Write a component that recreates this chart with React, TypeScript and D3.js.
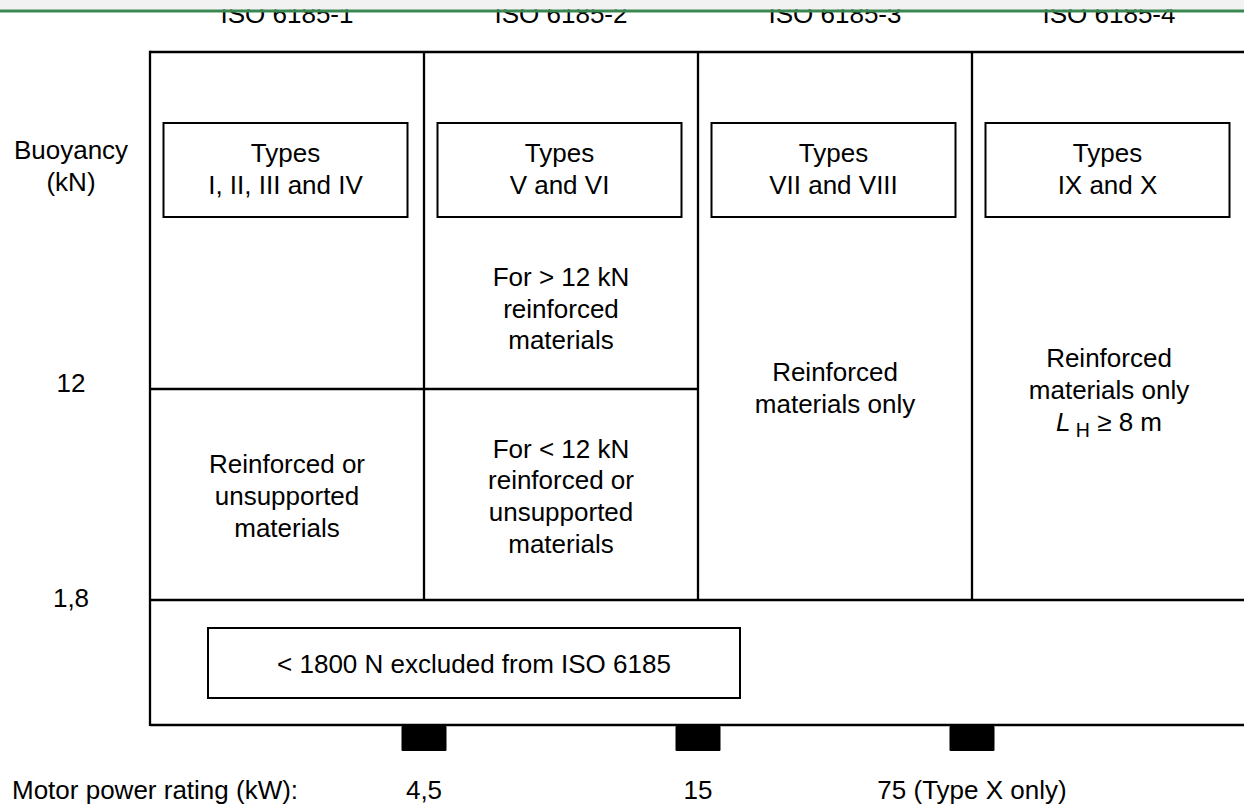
import React from "react";
import * as d3 from "d3";

const standards = ["ISO 6185-1", "ISO 6185-2", "ISO 6185-3", "ISO 6185-4"];
const typeLabels = [
  ["Types", "I, II, III and IV"],
  ["Types", "V and VI"],
  ["Types", "VII and VIII"],
  ["Types", "IX and X"],
];
const buoyancyLevels = ["top", "12", "1,8", "bottom"];
const buoyancyTicks = ["12", "1,8"];
const powerTicks = ["4,5", "15", "75 (Type X only)"];
const upperNotes = [
  [],
  ["For > 12 kN", "reinforced", "materials"],
  ["Reinforced", "materials only"],
  ["Reinforced", "materials only", "LH"],
];
const lowerNotes = [
  ["Reinforced or", "unsupported", "materials"],
  ["For < 12 kN", "reinforced or", "unsupported", "materials"],
];
const excludedLabel = "< 1800 N excluded from ISO 6185";
const yAxisTitle = ["Buoyancy", "(kN)"];
const xAxisTitle = "Motor power rating (kW):";

const W = 1244;
const H = 807;
const FS = 26;
const LH = 31.7;
const FONT = "'Liberation Sans', Arial, Helvetica, sans-serif";

function Lines({ lines, cx, cy }: { lines: string[]; cx: number; cy: number }) {
  const n = lines.length;
  return (
    <>
      {lines.map((t, i) => {
        const y = cy + (i - (n - 1) / 2) * LH + FS * 0.35;
        if (t === "LH") {
          return (
            <text key={i} x={cx} y={y} textAnchor="middle">
              <tspan fontStyle="italic">L</tspan>
              <tspan fontSize={FS * 0.75} dy={6}> H</tspan>
              <tspan dy={-6}> ≥ 8 m</tspan>
            </text>
          );
        }
        return (
          <text key={i} x={cx} y={y} textAnchor="middle">
            {t}
          </text>
        );
      })}
    </>
  );
}

export default function App() {
  const x = d3.scaleBand<string>().domain(standards).range([150, 1246]).padding(0);
  const y = d3.scaleOrdinal<string, number>().domain(buoyancyLevels).range([52, 389, 600, 725]);
  const bw = x.bandwidth();
  const left = x(standards[0])!;
  const right = 1246;
  const top = y("top");
  const y12 = y("12");
  const y18 = y("1,8");
  const bottom = y("bottom");
  const boundaries = standards.slice(1).map((s) => x(s)!);

  const stroke = "#000";
  return (
    <svg
      width={W}
      height={H}
      style={{ position: "absolute", left: 0, top: 0, display: "block", background: "#fff" }}
      fontFamily={FONT}
      fontSize={FS}
      fill="#000"
    >
      <rect x={0} y={0} width={W} height={H} fill="#fff" />
      {/* standard labels (clipped at top by band) */}
      {standards.map((s) => (
        <text key={s} x={x(s)! + bw / 2} y={23} textAnchor="middle">
          {s}
        </text>
      ))}
      <rect x={0} y={0} width={W} height={9.5} fill="#f2f2f2" />
      <rect x={0} y={9.5} width={W} height={3} fill="#3b8752" />

      {/* frame */}
      <g stroke={stroke} strokeWidth={2.3} fill="none">
        <line x1={left} x2={right} y1={top} y2={top} strokeWidth={2.6} />
        <line x1={left} x2={right} y1={bottom} y2={bottom} />
        <line x1={left} x2={left} y1={top - 1.3} y2={bottom + 1.1} />
        <line x1={left} x2={right} y1={y18} y2={y18} />
        <line x1={left} x2={x(standards[2])!} y1={y12} y2={y12} />
        {boundaries.map((bx) => (
          <line key={bx} x1={bx} x2={bx} y1={top} y2={y18} />
        ))}
      </g>

      {/* type boxes */}
      {standards.map((s, i) => (
        <g key={s}>
          <rect
            x={x(s)! + 13.5}
            y={123}
            width={bw - 30}
            height={94}
            fill="none"
            stroke={stroke}
            strokeWidth={2}
          />
          <Lines lines={typeLabels[i]} cx={x(s)! + 13.5 + (bw - 30) / 2} cy={169} />
        </g>
      ))}

      {/* notes */}
      <Lines lines={upperNotes[1]} cx={x(standards[1])! + bw / 2} cy={308.5} />
      <Lines lines={upperNotes[2]} cx={x(standards[2])! + bw / 2} cy={388} />
      <Lines lines={upperNotes[3]} cx={x(standards[3])! + bw / 2} cy={390} />
      <Lines lines={lowerNotes[0]} cx={x(standards[0])! + bw / 2} cy={496} />
      <Lines lines={lowerNotes[1]} cx={x(standards[1])! + bw / 2} cy={496} />

      {/* excluded box */}
      <rect x={208} y={628} width={532} height={70} fill="none" stroke={stroke} strokeWidth={2} />
      <Lines lines={[excludedLabel]} cx={474} cy={664} />

      {/* y axis labels */}
      <Lines lines={yAxisTitle} cx={71} cy={166} />
      {buoyancyTicks.map((t) => (
        <Lines key={t} lines={[t]} cx={71} cy={y(t) - (t === "12" ? 6 : 2)} />
      ))}

      {/* motor power markers */}
      {boundaries.map((bx, i) => (
        <g key={i}>
          <rect x={bx - 22.5} y={726} width={45} height={25} fill="#000" rx={1} />
          <Lines lines={[powerTicks[i]]} cx={bx} cy={790} />
        </g>
      ))}
      <text x={12} y={790 + FS * 0.35}>
        {xAxisTitle}
      </text>
    </svg>
  );
}
